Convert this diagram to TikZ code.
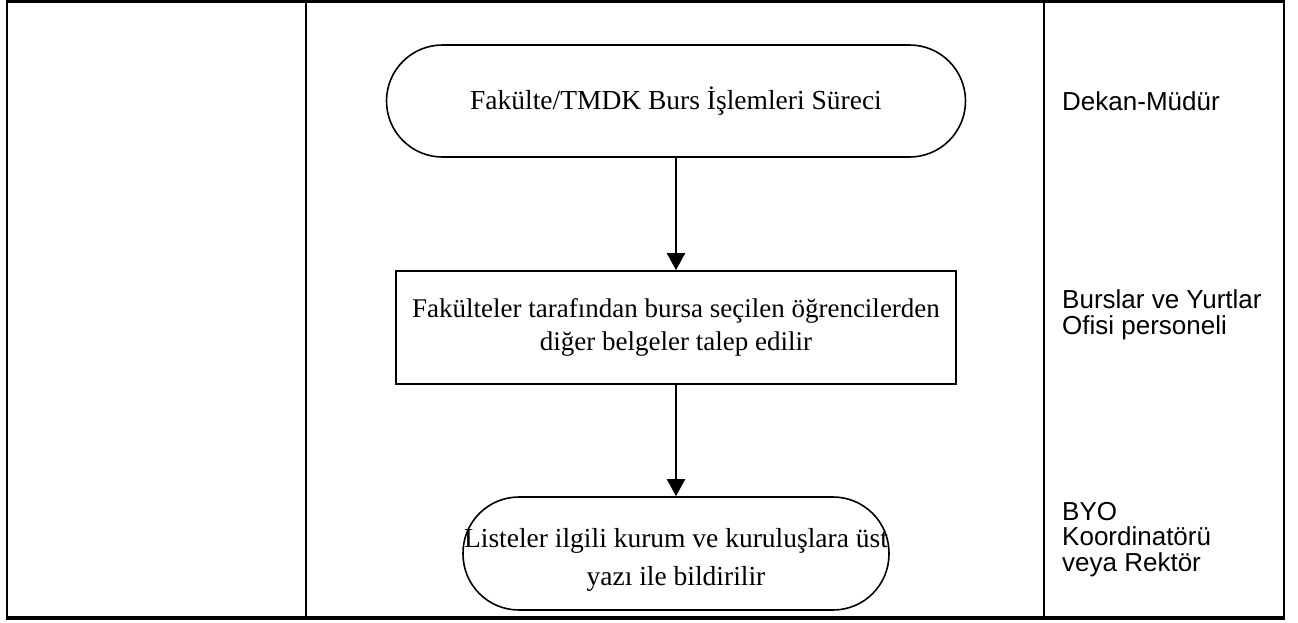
\documentclass[tikz,border=0pt]{standalone}
\usepackage{fontspec}
\setmainfont{Liberation Serif}
\newfontfamily\lanefont{Liberation Sans}
\usetikzlibrary{arrows.meta, positioning}
\tikzset{
    termbox/.style={rectangle, rounded corners=56pt, draw=black, line width=1.6pt,
                    inner sep=0pt, align=center, font=\fontsize{27.5}{32}\selectfont},
    procbox/.style={rectangle, draw=black, line width=1.6pt,
                    inner sep=0pt, align=center, font=\fontsize{27}{33}\selectfont},
    lanetext/.style={inner sep=0pt, align=left, font=\lanefont\fontsize{26}{25.5}\selectfont},
    frameline/.style={line width=2pt, black},
    arrow/.style={-{Triangle[length=17pt, width=18pt]}, line width=2pt, black},
}
\begin{document}
\begin{tikzpicture}[x=1pt, y=-1pt]
    \useasboundingbox (0,0) rectangle (1298,622);
    % Table frame and lanes
    \draw[frameline] (7,1.5) -- (7,618);
    \draw[frameline] (1284,1.5) -- (1284,618);
    \draw[frameline] (306,1.5) -- (306,618);
    \draw[frameline] (1044,1.5) -- (1044,618);
    \draw[line width=3.5pt] (6,1.5) -- (1285,1.5);
    \draw[line width=4pt] (6,618) -- (1285,618);

    % Process steps
    \node[termbox, minimum width=579pt, minimum height=112pt] (start) at (676,101) {Fakülte/TMDK Burs İşlemleri Süreci};
    \node[procbox, minimum width=560pt, minimum height=113pt] (request) at (676,327.5) {Fakülteler tarafından bursa seçilen öğrencilerden\\diğer belgeler talep edilir};
    \node[termbox, minimum width=426pt, minimum height=113pt, font=\fontsize{27.5}{38}\selectfont] (notify) at (676,553.5) {\rule{0pt}{31pt}Listeler ilgili kurum ve kuruluşlara üst\\yazı ile bildirilir};
    \draw[arrow] (start) -- (request);
    \draw[arrow] (request) -- (notify);

    % Responsible persons
    \node[lanetext, anchor=base west] (dean) at (1062,110) {Dekan-Müdür};
    \node[lanetext, anchor=base west] (office) at (1062,334) {Burslar ve Yurtlar\\Ofisi personeli};
    \node[lanetext, anchor=base west] (coord) at (1062,571) {BYO\\Koordinatörü\\veya Rektör};
\end{tikzpicture}
\end{document}
